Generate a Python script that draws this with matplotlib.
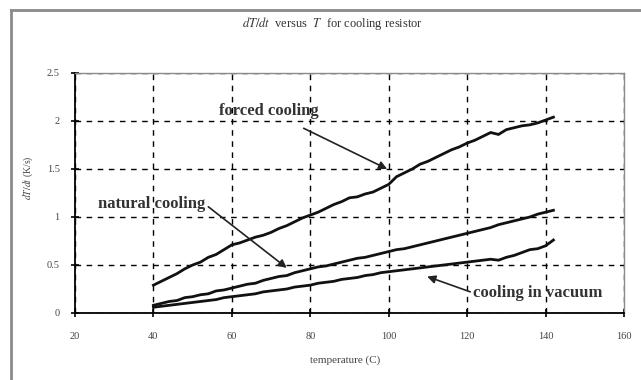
import matplotlib
matplotlib.use("Agg")
import matplotlib.pyplot as plt
from matplotlib.lines import Line2D

temperature = [40, 42, 44, 46, 48, 50, 52, 54, 56, 58, 60, 62, 64, 66, 68, 70, 72, 74, 76, 78,
               80, 82, 84, 86, 88, 90, 92, 94, 96, 98, 100, 102, 104, 106, 108, 110, 112, 114,
               116, 118, 120, 122, 124, 126, 128, 130, 132, 134, 136, 138, 140, 142]
forced = [0.29, 0.33, 0.37, 0.41, 0.46, 0.50, 0.53, 0.58, 0.61, 0.66, 0.71, 0.73, 0.76, 0.79,
          0.81, 0.84, 0.88, 0.91, 0.95, 0.99, 1.02, 1.05, 1.09, 1.13, 1.16, 1.20, 1.21, 1.24,
          1.26, 1.30, 1.34, 1.42, 1.46, 1.50, 1.55, 1.58, 1.62, 1.66, 1.70, 1.73, 1.77, 1.80,
          1.84, 1.88, 1.86, 1.91, 1.93, 1.95, 1.96, 1.98, 2.01, 2.04]
natural = [0.08, 0.10, 0.12, 0.13, 0.16, 0.17, 0.19, 0.20, 0.23, 0.24, 0.26, 0.28, 0.30, 0.31,
           0.34, 0.36, 0.38, 0.39, 0.42, 0.44, 0.46, 0.48, 0.49, 0.51, 0.53, 0.55, 0.57, 0.58,
           0.60, 0.62, 0.64, 0.66, 0.67, 0.69, 0.71, 0.73, 0.75, 0.77, 0.79, 0.81, 0.83, 0.85,
           0.87, 0.89, 0.92, 0.94, 0.96, 0.98, 1.00, 1.03, 1.05, 1.07]
vacuum = [0.06, 0.07, 0.08, 0.09, 0.10, 0.11, 0.12, 0.13, 0.14, 0.16, 0.17, 0.18, 0.19, 0.20,
          0.22, 0.23, 0.24, 0.25, 0.27, 0.28, 0.29, 0.31, 0.32, 0.33, 0.35, 0.36, 0.37, 0.39,
          0.40, 0.42, 0.43, 0.44, 0.45, 0.46, 0.47, 0.48, 0.49, 0.50, 0.51, 0.52, 0.53, 0.54,
          0.55, 0.56, 0.55, 0.58, 0.60, 0.63, 0.66, 0.67, 0.70, 0.76]

x_ticks = [20, 40, 60, 80, 100, 120, 140, 160]
y_ticks = [0, 0.5, 1, 1.5, 2, 2.5]
y_tick_labels = ["0", "0.5", "1", "1.5", "2", "2.5"]

plt.rcParams['font.family'] = ['Liberation Serif', 'DejaVu Serif']
plt.rcParams['mathtext.fontset'] = 'stix'

fig = plt.figure(figsize=(6.41, 3.80), dpi=100)
ax = fig.add_axes([75/641, 1-313/380, (624-75)/641, (313-73)/380])

for ys in (forced, natural, vacuum):
    ax.plot(temperature, ys, color='#111111', lw=2.0, solid_joinstyle='miter')

ax.set_xlim(20, 160)
ax.set_ylim(0, 2.5)
ax.set_xticks(x_ticks)
ax.set_yticks(y_ticks)
ax.set_yticklabels(y_tick_labels)
ax.grid(True, color='black', linestyle=(0, (4, 4)), linewidth=1.0)
ax.set_axisbelow(True)

for s in ('top', 'right'):
    ax.spines[s].set_color('#8a8a8a')
    ax.spines[s].set_linewidth(1.0)
for s in ('left', 'bottom'):
    ax.spines[s].set_color('black')
    ax.spines[s].set_linewidth(1.3)

ax.tick_params(axis='both', direction='inout', length=6, width=1.2, labelsize=7.5,
               labelcolor='#444444')
ax.tick_params(axis='x', pad=11)
ax.tick_params(axis='y', pad=8)

ax.set_xlabel("temperature (C)", fontsize=8, color='#444444')
ax.xaxis.set_label_coords((345 - 75) / 549, -(355 - 313) / 240)
ax.set_ylabel("$dT/dt$ (K/s)", fontsize=7, color='#444444')
ax.yaxis.set_label_coords(-(75 - 35) / 549, (313 - 178) / 240)
fig.text(332/641, 1-24/380, r"$dT/dt$  versus  $T$  for cooling resistor", fontsize=9,
         color='#333333', ha='center', va='center')

ann_kw = dict(fontsize=12, fontweight='bold', color='#333333', ha='center', va='center')
ax.annotate("forced cooling", xy=(99.6, 1.50), xytext=(69.5, 2.10),
            arrowprops=dict(arrowstyle='-|>', color='#222222', lw=1.2, mutation_scale=12,
                            shrinkA=10, shrinkB=0), **ann_kw)
ax.annotate("natural cooling", xy=(74.0, 0.47), xytext=(39.5, 1.14),
            arrowprops=dict(arrowstyle='-|>', color='#222222', lw=1.2, mutation_scale=12,
                            shrinkA=0, shrinkB=0, relpos=(1.03, 0.3)), **ann_kw)
ax.annotate("cooling in vacuum", xy=(109.8, 0.38), xytext=(138.0, 0.21),
            arrowprops=dict(arrowstyle='-|>', color='#222222', lw=1.2, mutation_scale=12,
                            shrinkA=0, shrinkB=0, relpos=(0.0, 0.5)), **ann_kw)

# outer chart frame (left and top edges)
fig.add_artist(Line2D([11/641, 11/641], [0, 1-10/380], transform=fig.transFigure,
                      color='#8a8a8a', lw=2))
fig.add_artist(Line2D([11/641, 1], [1-10/380, 1-10/380], transform=fig.transFigure,
                      color='#8a8a8a', lw=2))

fig.savefig("out.png", dpi=100)
